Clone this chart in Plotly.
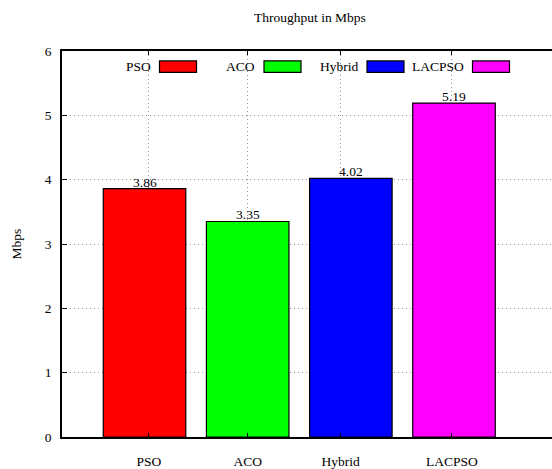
import plotly.graph_objects as go

categories = ["PSO", "ACO", "Hybrid", "LACPSO"]
values = [3.86, 3.35, 4.02, 5.19]
colors = ["#ff0000", "#00ff00", "#0000ff", "#ff00ff"]
y_ticks = [0, 1, 2, 3, 4, 5, 6]

W, H = 552, 469
L, R, T, B = 62, 552, 51, 439.5
FONT = "Liberation Serif"
FS = 13.5

def px_x(p):
    return (p - L) / (R - L)

def px_y(p):
    return (B - p) / (B - T)

xs = list(range(len(categories)))
fig = go.Figure()
fig.add_trace(go.Bar(
    x=xs, y=values, width=0.8,
    marker=dict(color=colors, line=dict(color="black", width=1.2)),
    cliponaxis=False, showlegend=False, hoverinfo="skip",
))

shapes = []
annotations = []
for x, v in zip(xs, values):
    annotations.append(dict(x=x, y=v, xref="x", yref="y", text=f"{v:.2f}",
                            showarrow=False, xanchor="center", yanchor="bottom",
                            yshift=-3, font=dict(family=FONT, size=FS, color="black")))

box_left = [159.5, 264, 367, 472.5]
for cat, col, bx in zip(categories, colors, box_left):
    shapes.append(dict(type="rect", xref="paper", yref="paper",
                       x0=px_x(bx), x1=px_x(bx + 37), y0=px_y(72.5), y1=px_y(61),
                       fillcolor=col, line=dict(color="black", width=1.2)))
    annotations.append(dict(xref="paper", yref="paper", x=px_x(bx - 7), y=px_y(66.5),
                            text=cat, showarrow=False, xanchor="right", yanchor="middle",
                            font=dict(family=FONT, size=FS, color="black")))

fig.update_layout(
    width=W, height=H,
    margin=dict(l=L, r=W - R, t=T, b=H - B),
    paper_bgcolor="white", plot_bgcolor="white",
    font=dict(family=FONT, size=FS, color="black"),
    title=dict(text="Throughput in Mbps", x=310 / W, xanchor="center",
               y=1 - 17 / H, yanchor="middle",
               font=dict(family=FONT, size=FS, color="black")),
    xaxis=dict(range=[-0.8, 3.95], tickvals=[0.043, 1.0, 1.9, 2.98], ticktext=categories,
               showline=True, linecolor="black", linewidth=1.5, mirror="ticks",
               ticks="inside", ticklen=4, tickcolor="black",
               showgrid=True, gridcolor="#999999", griddash="1px,3px", gridwidth=1,
               zeroline=False, ticklabelstandoff=11),
    yaxis=dict(range=[0, 6], tickvals=y_ticks,
               showline=True, linecolor="black", linewidth=1.5,
               ticks="inside", ticklen=5, tickcolor="black",
               showgrid=True, gridcolor="#999999", griddash="1px,3px", gridwidth=1,
               zeroline=False, ticklabelstandoff=6,
               title=dict(text="Mbps", standoff=20, font=dict(family=FONT, size=FS))),
    shapes=shapes, annotations=annotations,
)
fig.write_html("out.html", config={"displayModeBar": False},
               post_script="document.body.style.margin='0';document.body.style.padding='0';")
